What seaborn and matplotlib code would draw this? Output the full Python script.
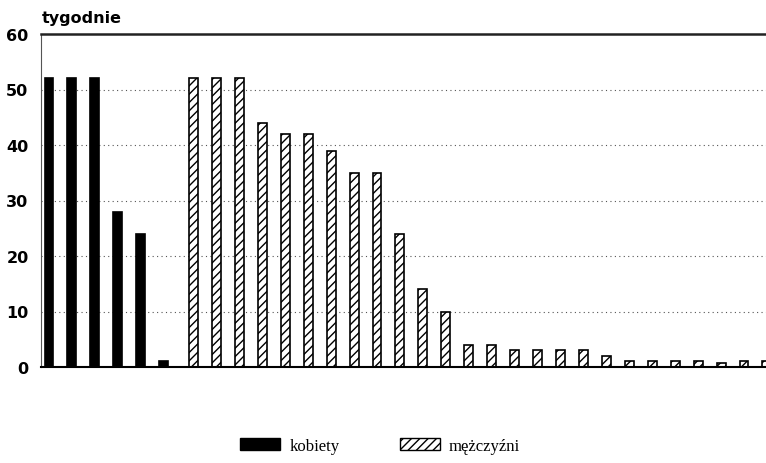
import numpy as np
import pandas as pd
import matplotlib
matplotlib.use("Agg")
import matplotlib.pyplot as plt
import seaborn as sns
from matplotlib.patches import Patch

# --- data ---
kobiety = [52, 52, 52, 28, 24, 1]
mezczyzni = [52, 52, 52, 44, 42, 42, 39, 35, 35, 24, 14, 10, 4, 4, 3, 3, 3, 3, 2, 1, 1, 1, 1, 0.7, 1, 1]
groups = ["kobiety", "mężczyźni"]
y_ticks = [0, 10, 20, 30, 40, 50, 60]
y_label = "tygodnie"

sns.set_theme(style="white")
plt.rcParams["font.family"] = ["DejaVu Sans"]
plt.rcParams["text.color"] = "black"
plt.rcParams["ytick.color"] = "black"
plt.rcParams["hatch.linewidth"] = 1.0
plt.rcParams["hatch.color"] = "black"

# positions: women bars consecutive, small extra gap before men bars
gap = 0.3
pos_k = np.arange(len(kobiety), dtype=float)
pos_m = len(kobiety) + gap + np.arange(len(mezczyzni), dtype=float)
df = pd.DataFrame({
    "pos": np.concatenate([pos_k, pos_m]),
    "val": kobiety + mezczyzni,
    "grp": [groups[0]] * len(kobiety) + [groups[1]] * len(mezczyzni),
})

fig = plt.figure(figsize=(7.66, 4.64), dpi=100)
ax = fig.add_axes([41 / 766, 1 - 368 / 464, 1 - 41 / 766, (368 - 35) / 464])

sns.barplot(data=df, x="pos", y="val", hue="grp", native_scale=True, dodge=False,
            palette={groups[0]: "black", groups[1]: "white"}, width=0.39,
            edgecolor="black", linewidth=1.2, legend=False, ax=ax)

for p in ax.patches:
    if p.get_facecolor()[0] > 0.5:
        p.set_hatch("////")
        p.set_edgecolor("black")

ax.set_xlim(-0.35, len(kobiety) + gap + len(mezczyzni) - 1 - 0.04)
ax.set_ylim(0, 60)
ax.set_yticks(y_ticks)
ax.set_yticklabels([str(t) for t in y_ticks], fontsize=11.5, fontweight="bold", color="black")
ax.set_xticks([])
ax.set_xlabel("")
ax.set_ylabel("")
ax.tick_params(axis="y", length=0, pad=9, labelcolor="black")

for t in y_ticks[1:-1]:
    ax.axhline(t, color="#555555", linestyle=(0, (1, 3)), linewidth=0.8, zorder=0)

ax.spines["right"].set_visible(False)
ax.spines["top"].set_linewidth(1.8)
ax.spines["top"].set_color("#222222")
ax.spines["left"].set_linewidth(0.8)
ax.spines["left"].set_color("#555555")
ax.spines["bottom"].set_linewidth(1.5)
ax.spines["bottom"].set_color("black")

fig.text(42 / 766, 1 - 19 / 464, y_label, fontsize=11.5, fontweight="bold",
         ha="left", va="center", color="black")

handles = [Patch(facecolor="black", edgecolor="black"),
           Patch(facecolor="white", edgecolor="black", hatch="////")]
leg = fig.legend(handles, groups, loc="center", bbox_to_anchor=(380 / 766, 1 - 447 / 464),
                 ncol=2, frameon=False, handlelength=2.4, handleheight=0.75,
                 columnspacing=3.6, handletextpad=0.55,
                 prop={"family": "Liberation Serif", "size": 12})
for txt in leg.get_texts():
    txt.set_color("black")

fig.savefig("out.png", dpi=100)
